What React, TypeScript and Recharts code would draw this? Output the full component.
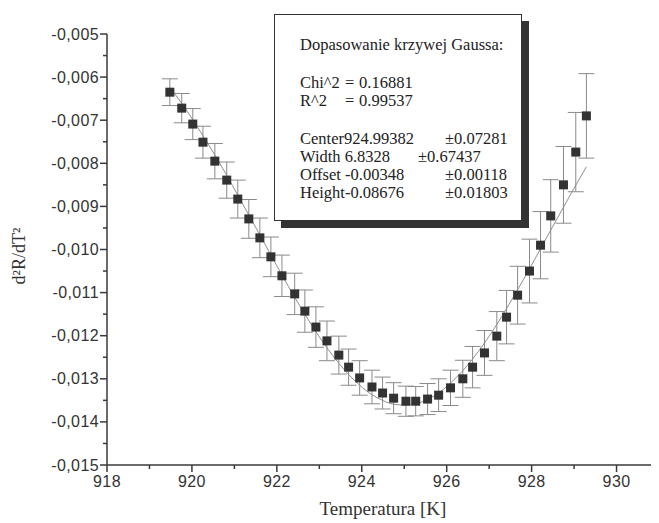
import { ComposedChart, Scatter, Line, XAxis, YAxis, ErrorBar } from 'recharts'

// temperatura [K]
const temperature = [
  919.48, 919.76, 920.02, 920.26, 920.54, 920.82, 921.08, 921.34, 921.6, 921.86,
  922.12, 922.42, 922.66, 922.92, 923.18, 923.46, 923.69, 923.95, 924.24, 924.49,
  924.75, 925.04, 925.27, 925.55, 925.81, 926.09, 926.38, 926.61, 926.89, 927.18,
  927.41, 927.67, 927.95, 928.21, 928.45, 928.75, 929.04, 929.29,
]
// d2R/dT2 measured
const d2r = [
  -0.00635, -0.00672, -0.00709, -0.00751, -0.00795, -0.00839, -0.00883, -0.00929, -0.00973, -0.01017,
  -0.01061, -0.01103, -0.01143, -0.0118, -0.01212, -0.01245, -0.01273, -0.01298, -0.01319, -0.01333,
  -0.01345, -0.01352, -0.01352, -0.01347, -0.01338, -0.01321, -0.013, -0.01273, -0.0124, -0.01201,
  -0.01157, -0.01106, -0.0105, -0.0099, -0.00922, -0.0085, -0.00774, -0.0069,
]
const d2rErr = [
  0.00031, 0.00034, 0.00036, 0.00037, 0.00041, 0.00042, 0.00044, 0.00045, 0.00046, 0.00046,
  0.00048, 0.00048, 0.00049, 0.00047, 0.00046, 0.00044, 0.00042, 0.0004, 0.00039, 0.00037,
  0.00036, 0.00035, 0.00034, 0.00036, 0.00038, 0.00041, 0.00043, 0.00048, 0.00052, 0.00057,
  0.00062, 0.00067, 0.00074, 0.00078, 0.00084, 0.00089, 0.00092, 0.00098,
]
// dopasowana krzywa Gaussa
const gaussFit = [
  -0.00624, -0.00661, -0.00699, -0.00736, -0.00781, -0.00828, -0.00874, -0.0092, -0.00966, -0.01013,
  -0.01059, -0.01111, -0.0115, -0.01191, -0.01228, -0.01264, -0.0129, -0.01315, -0.01337, -0.0135,
  -0.01359, -0.01361, -0.01358, -0.01348, -0.01333, -0.0131, -0.01281, -0.01254, -0.01217, -0.01174,
  -0.01137, -0.01093, -0.01045, -0.00998, -0.00955, -0.00902, -0.00851, -0.00808,
]

const xMajor = [918, 920, 922, 924, 926, 928, 930]
const xMinor = [919, 921, 923, 925, 927, 929, 931]
const yMajor = [-0.015, -0.014, -0.013, -0.012, -0.011, -0.01, -0.009, -0.008, -0.007, -0.006, -0.005]
const yMinor = [-0.0145, -0.0135, -0.0125, -0.0115, -0.0105, -0.0095, -0.0085, -0.0075, -0.0065, -0.0055]

const data = temperature.map((t, i) => ({ t, y: d2r[i], err: d2rErr[i], fit: gaussFit[i] }))

const axisColor = '#3a3a3a'
const tickFont = { fontFamily: '"Liberation Sans", Arial, sans-serif', fontSize: 16, fill: '#333', letterSpacing: 0.4 }
const serif = '"Liberation Serif", "Times New Roman", serif'

const XTick = (props: any) => {
  const { x, y, payload } = props
  const major = xMajor.includes(payload.value)
  return (
    <g>
      <line x1={x} y1={y} x2={x} y2={y + (major ? 7 : 4)} stroke={axisColor} strokeWidth={1.5} />
      {major && (
        <text x={x} y={y + 22} textAnchor="middle" {...tickFont}>
          {payload.value}
        </text>
      )}
    </g>
  )
}

const YTick = (props: any) => {
  const { x, y, payload } = props
  const major = yMajor.includes(payload.value)
  return (
    <g>
      <line x1={x} y1={y} x2={x - (major ? 7 : 4)} y2={y} stroke={axisColor} strokeWidth={1.5} />
      {major && (
        <text x={x - 8} y={y} textAnchor="end" dominantBaseline="central" {...tickFont}>
          {payload.value.toFixed(3).replace('.', ',')}
        </text>
      )}
    </g>
  )
}

const Square = (props: any) => {
  const { cx, cy } = props
  return <rect x={cx - 4.5} y={cy - 4.5} width={9} height={9} fill="#333" />
}

const line = (top: number, left: number, text: string) => (
  <span style={{ position: 'absolute', top, left, whiteSpace: 'pre' }}>{text}</span>
)

export default function App() {
  return (
    <div style={{ position: 'relative', width: 651, height: 515, background: '#fff' }}>
      <ComposedChart width={651} height={515} data={data} margin={{ top: 26, right: 0, left: 0, bottom: 0 }}>
        <XAxis
          dataKey="t"
          type="number"
          domain={[918, 931]}
          allowDataOverflow
          ticks={[...xMajor, ...xMinor]}
          interval={0}
          tickSize={0}
          tickMargin={0}
          tick={<XTick />}
          height={58}
          stroke={axisColor}
          strokeWidth={1.5}
          label={{
            content: () => (
              <text x={375} y={500} textAnchor="middle" dominantBaseline="central" fontFamily={serif} fontSize={19} fill="#333">
                Temperatura [K]
              </text>
            ),
          }}
        />
        <YAxis
          type="number"
          domain={[-0.015, -0.005]}
          allowDataOverflow
          ticks={[...yMajor, ...yMinor]}
          interval={0}
          tickSize={0}
          tickMargin={0}
          tick={<YTick />}
          width={99}
          stroke={axisColor}
          strokeWidth={1.5}
          label={{
            content: () => (
              <text x={11} y={248} transform="rotate(-90 11 248)" textAnchor="middle" dominantBaseline="central" fontFamily={serif} fontSize={18} fill="#333">
                d²R/dT²
              </text>
            ),
          }}
        />
        <Line dataKey="fit" type="monotone" stroke="#8f8f8f" strokeWidth={1} dot={false} activeDot={false} isAnimationActive={false} />
        <Scatter dataKey="y" shape={<Square />} isAnimationActive={false}>
          <ErrorBar dataKey="err" direction="y" width={8} stroke="#8a8a8a" strokeWidth={1} isAnimationActive={false} />
        </Scatter>
      </ComposedChart>

      <div
        style={{
          position: 'absolute',
          left: 266,
          top: 6,
          width: 248,
          height: 207,
          boxSizing: 'border-box',
          border: '1.5px solid #333',
          boxShadow: '7px 7px 0 #333',
          background: '#fff',
        }}
      />
      <div style={{ position: 'absolute', left: 0, top: 0, fontFamily: serif, fontSize: 16.5, lineHeight: '16px', color: '#222' }}>
        {line(29, 292, 'Dopasowanie krzywej Gaussa:')}
        {line(67, 292, 'Chi^2')}
        {line(67, 337, '=')}
        {line(67, 351, '0.16881')}
        {line(85, 292, 'R^2')}
        {line(85, 337, '=')}
        {line(85, 351, '0.99537')}
        {line(123, 292, 'Center924.99382')}
        {line(123, 437, '±0.07281')}
        {line(141, 292, 'Width 6.8328')}
        {line(141, 410, '±0.67437')}
        {line(159, 292, 'Offset -0.00348')}
        {line(159, 437, '±0.00118')}
        {line(177, 292, 'Height-0.08676')}
        {line(177, 437, '±0.01803')}
      </div>
    </div>
  )
}
